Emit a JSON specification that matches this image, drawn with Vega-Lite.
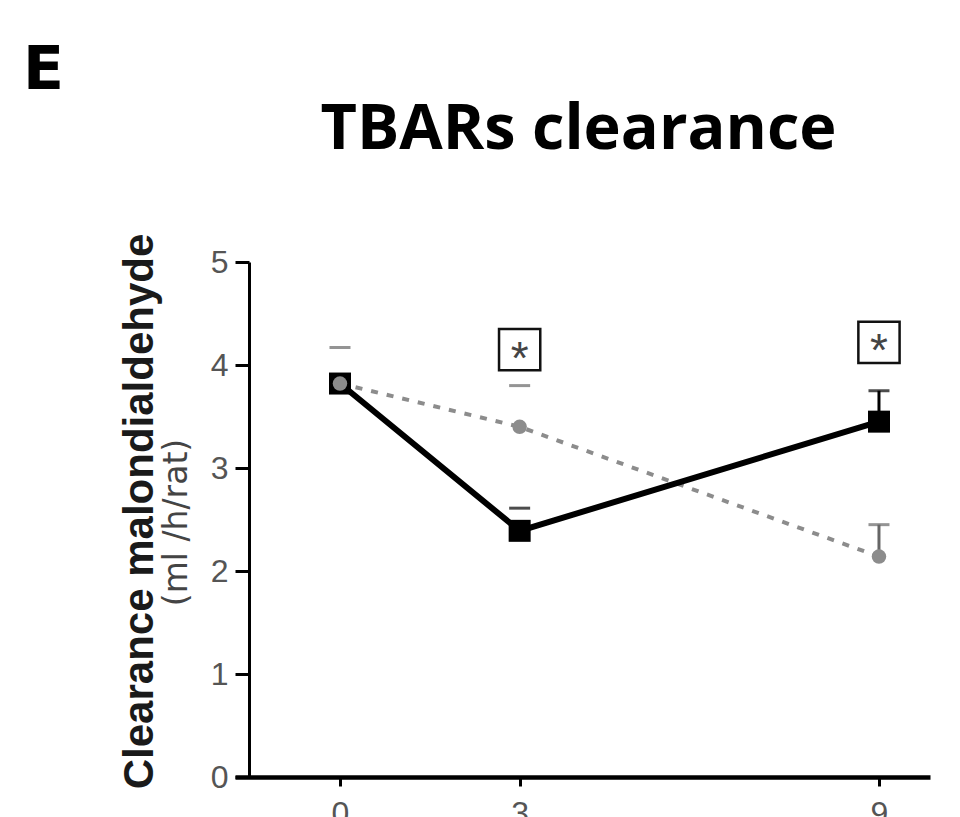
{
  "$schema": "https://vega.github.io/schema/vega-lite/v6.json",
  "width": 695,
  "height": 515,
  "autosize": "none",
  "padding": {"left": 235, "top": 262, "right": 30, "bottom": 40},
  "background": "white",
  "config": {"view": {"stroke": null}, "axis": {"grid": false}},
  "datasets": {
    "means": [
      {"time": 0, "group": "A", "value": 3.82},
      {"time": 3, "group": "A", "value": 2.39},
      {"time": 9, "group": "A", "value": 3.45},
      {"time": 0, "group": "B", "value": 3.82},
      {"time": 3, "group": "B", "value": 3.40},
      {"time": 9, "group": "B", "value": 2.14}
    ],
    "caps": [
      {"time": 0, "group": "B", "value": 4.17},
      {"time": 3, "group": "A", "value": 2.61},
      {"time": 3, "group": "B", "value": 3.80},
      {"time": 9, "group": "A", "value": 3.75},
      {"time": 9, "group": "B", "value": 2.45}
    ],
    "stems": [
      {"time": 9, "group": "A", "value": 3.45, "upper": 3.75},
      {"time": 9, "group": "B", "value": 2.14, "upper": 2.45}
    ],
    "stars": [
      {"time": 3, "value": 4.15, "label": "*"},
      {"time": 9, "value": 4.22, "label": "*"}
    ]
  },
  "layer": [
    {
      "encoding": {
        "x": {"field": "time", "type": "quantitative", "scale": {"domain": [-1.753, 9.852], "nice": false, "zero": false},
          "axis": {"values": [0, 3, 9], "format": "d", "title": null, "domainColor": "#000", "domainWidth": 4.5, "tickColor": "#000", "tickWidth": 3, "tickSize": 9,
            "labelFont": "Liberation Sans", "labelFontSize": 32, "labelColor": "#555", "labelPadding": 12, "grid": false}},
        "y": {"field": "value", "type": "quantitative", "scale": {"domain": [0, 5], "nice": false, "zero": true},
          "axis": {"values": [0, 1, 2, 3, 4, 5], "format": "d", "offset": -14, "domainColor": "#000", "domainWidth": 3, "tickColor": "#000", "tickWidth": 3, "tickSize": 14,
            "labelFont": "Liberation Sans", "labelFontSize": 32, "labelColor": "#555", "labelPadding": 7, "grid": false,
            "title": "Clearance malondialdehyde", "titleFont": "Liberation Sans", "titleFontSize": 42, "titleFontWeight": "bold", "titleColor": "#1a1a1a",
            "titleAngle": -90, "titleX": -97, "titleY": 249, "titleAlign": "center", "titleBaseline": "alphabetic"}}
      },
      "layer": [
        {
          "data": {"name": "means"},
          "transform": [{"filter": "datum.group === 'B'"}],
          "mark": {"type": "line", "color": "#8c8c8c", "strokeWidth": 4, "strokeDash": [7, 9]}
        },
        {
          "data": {"name": "means"},
          "transform": [{"filter": "datum.group === 'A'"}],
          "mark": {"type": "line", "color": "#000", "strokeWidth": 6}
        },
        {
          "data": {"name": "caps"},
          "mark": {"type": "tick", "orient": "horizontal", "thickness": 3, "size": 21},
          "encoding": {
            "color": {"field": "group", "type": "nominal", "scale": {"domain": ["A", "B"], "range": ["#000000", "#666666"]}, "legend": null}
          }
        },
        {
          "data": {"name": "stems"},
          "mark": {"type": "rule", "strokeWidth": 3},
          "encoding": {
            "y2": {"field": "upper"},
            "color": {"field": "group", "type": "nominal", "legend": null}
          }
        },
        {
          "data": {"name": "means"},
          "transform": [{"filter": "datum.group === 'A'"}],
          "mark": {"type": "point", "shape": "square", "filled": true, "opacity": 1, "color": "#000", "size": 484}
        },
        {
          "data": {"name": "means"},
          "transform": [{"filter": "datum.group === 'B'"}],
          "mark": {"type": "point", "shape": "circle", "filled": true, "opacity": 1, "color": "#8c8c8c", "size": 210}
        },
        {
          "data": {"name": "stars"},
          "mark": {"type": "point", "shape": "square", "filled": false, "opacity": 1, "color": "#111", "strokeWidth": 2.5, "size": 1700}
        },
        {
          "data": {"name": "stars"},
          "mark": {"type": "text", "font": "Liberation Sans", "fontSize": 46, "color": "#444", "baseline": "alphabetic", "align": "center", "dy": 24},
          "encoding": {
            "text": {"field": "label"}
          }
        }
      ]
    },
    {
      "data": {"name": "stars"},
      "mark": {"type": "point", "opacity": 0},
      "encoding": {
        "x": {"field": "time", "type": "quantitative",
          "axis": {"orient": "top", "domain": false, "ticks": false, "labels": false, "grid": false,
            "title": "TBARs clearance", "titleFont": "Open Sans", "titleFontSize": 63, "titleFontWeight": "bold", "titleColor": "#000",
            "titleX": 343, "titleY": -114, "titleAlign": "center", "titleBaseline": "alphabetic", "titleAngle": 0}},
        "y": {"field": "value", "type": "quantitative",
          "axis": {"orient": "left", "offset": -14, "domain": false, "ticks": false, "labels": false, "grid": false,
            "title": "(ml /h/rat)", "titleFont": "DejaVu Sans", "titleFontSize": 33, "titleFontWeight": "normal", "titleColor": "#444",
            "titleAngle": -90, "titleX": -63, "titleY": 260, "titleAlign": "center", "titleBaseline": "alphabetic"}}
      }
    },
    {
      "data": {"name": "stars"},
      "mark": {"type": "point", "opacity": 0},
      "encoding": {
        "x": {"field": "time", "type": "quantitative",
          "axis": {"orient": "top", "domain": false, "ticks": false, "labels": false, "grid": false,
            "title": "E", "titleFont": "DejaVu Sans", "titleFontSize": 60, "titleFontWeight": "bold", "titleColor": "#000",
            "titleX": -192, "titleY": -174, "titleAlign": "center", "titleBaseline": "alphabetic", "titleAngle": 0}},
        "y": {"field": "value", "type": "quantitative", "axis": null}
      }
    }
  ],
  "resolve": {"axis": {"x": "independent", "y": "independent"}}
}
